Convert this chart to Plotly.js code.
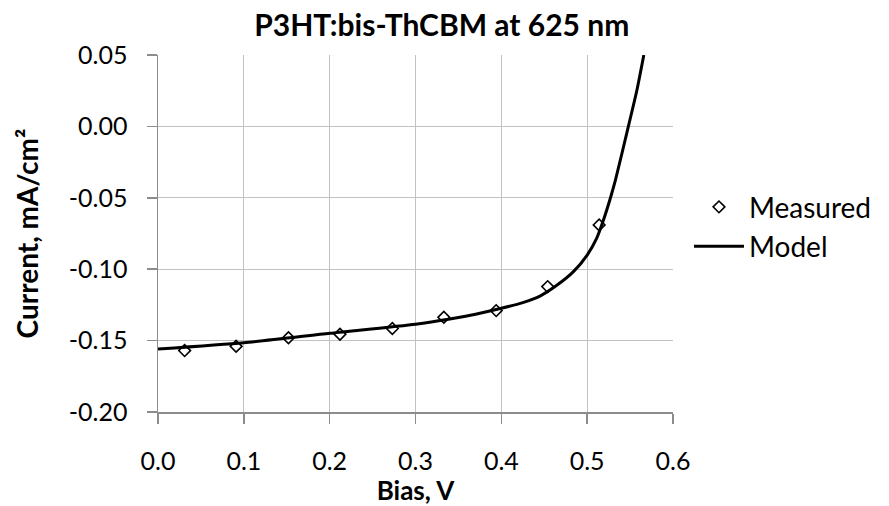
<!DOCTYPE html>
<html><head><meta charset="utf-8">
<script src="https://cdn.plot.ly/plotly-3.0.1.min.js"></script>
<style>html,body{margin:0;padding:0;background:#fff}</style></head>
<body><div id="chart" style="width:889px;height:506px"></div>
<script>
// Measured points (Bias, V ; Current, mA/cm2)
const measuredBias    = [0.031, 0.091, 0.152, 0.212, 0.273, 0.333, 0.394, 0.454, 0.514];
const measuredCurrent = [-0.1570, -0.1540, -0.1480, -0.1455, -0.1415, -0.1337, -0.1290, -0.1122, -0.0690];

// Model curve
const modelBias    = [0.000, 0.100, 0.200, 0.300, 0.340, 0.370, 0.400, 0.425, 0.445, 0.465, 0.484, 0.500, 0.511, 0.519, 0.527, 0.533, 0.548, 0.558, 0.566];
const modelCurrent = [-0.1559, -0.1515, -0.1449, -0.1386, -0.1349, -0.1315, -0.1274, -0.1234, -0.1188, -0.1111, -0.1017, -0.0901, -0.0784, -0.0655, -0.0503, -0.0375, 0.0000, 0.0255, 0.0500];

const xTickVals = [0, 0.1, 0.2, 0.3, 0.4, 0.5, 0.6];
const xTickText = ['0.0', '0.1', '0.2', '0.3', '0.4', '0.5', '0.6'];
const yTickVals = [0.05, 0, -0.05, -0.10, -0.15, -0.20];
const yTickText = ['0.05', '0.00', '-0.05', '-0.10', '-0.15', '-0.20'];

const FONT = 'Lato, "Open Sans", sans-serif';

const traces = [
  {
    x: measuredBias, y: measuredCurrent, name: 'Measured',
    type: 'scatter', mode: 'markers',
    marker: {symbol: 'diamond', size: 9, color: '#ffffff', line: {color: '#000000', width: 1.6}}
  },
  {
    x: modelBias, y: modelCurrent, name: 'Model',
    type: 'scatter', mode: 'lines',
    line: {color: '#000000', width: 3, shape: 'spline', smoothing: 0.6}
  }
];

const layout = {
  width: 889, height: 506,
  margin: {l: 158, r: 216, t: 55, b: 94},
  paper_bgcolor: '#ffffff', plot_bgcolor: '#ffffff',
  font: {family: FONT, color: '#000000', size: 25},
  title: {text: '<b>P3HT:bis-ThCBM at 625 nm</b>', font: {family: FONT, size: 30, color: '#000'},
          xref: 'container', x: 0.497, xanchor: 'center', yref: 'container', y: 0.95, yanchor: 'middle'},
  xaxis: {
    range: [0, 0.6], tickvals: xTickVals, ticktext: xTickText,
    showgrid: true, gridcolor: '#c2c2c2', gridwidth: 1.3, zeroline: false,
    showline: true, linecolor: '#8c8c8c', linewidth: 1.5,
    ticks: 'outside', ticklen: 10, tickcolor: '#8c8c8c', tickwidth: 1.5,
    ticklabelstandoff: 16,
    tickfont: {size: 25},
    title: {text: '<b>Bias, V</b>', font: {size: 26}, standoff: 0}
  },
  yaxis: {
    range: [-0.2, 0.05], tickvals: yTickVals, ticktext: yTickText,
    showgrid: true, gridcolor: '#c2c2c2', gridwidth: 1.3, zeroline: false,
    showline: true, linecolor: '#8c8c8c', linewidth: 1.5,
    ticks: 'outside', ticklen: 10, tickcolor: '#8c8c8c', tickwidth: 1.5,
    ticklabelstandoff: 14,
    tickfont: {size: 25},
    title: {text: '<b>Current, mA/cm²</b>', font: {size: 28}, standoff: 22}
  },
  showlegend: true,
  legend: {
    xref: 'container', yref: 'container', x: 0.775, y: 0.64, xanchor: 'left', yanchor: 'top',
    font: {size: 28}, itemwidth: 50, traceorder: 'normal',
    bgcolor: 'rgba(0,0,0,0)'
  }
};

Plotly.newPlot('chart', traces, layout, {staticPlot: true, displayModeBar: false});
</script>
</body></html>
